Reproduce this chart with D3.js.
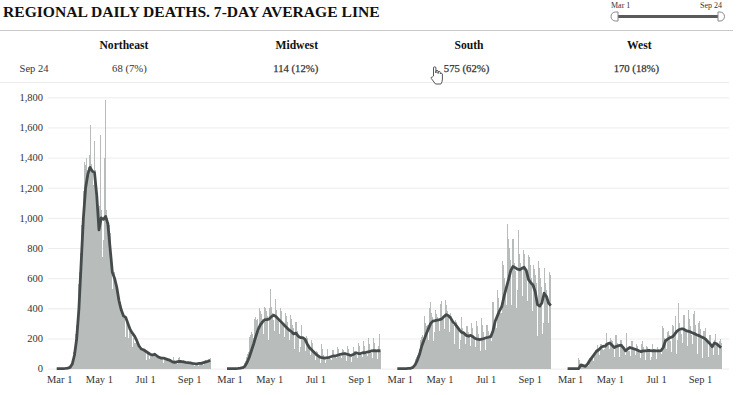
<!DOCTYPE html>
<html lang="en">
<head>
<meta charset="UTF-8">
<title>Regional Daily Deaths</title>
<script src="https://d3js.org/d3.v7.min.js"></script>
<style>
  body { margin: 0; background: #fff; }
  svg { display: block; font-family: "Liberation Serif", serif; }
  .grid line { stroke: #ececec; }
  .grid path { display: none; }
  .axis path, .axis line { display: none; }
  .axis text { font-family: "Liberation Serif", serif; font-size: 10.5px; fill: #333; }
</style>
</head>
<body>
<div id="chart"></div>
<script>
const regions = ["Northeast", "Midwest", "South", "West"];
const latest = ["68 (7%)", "114 (12%)", "575 (62%)", "170 (18%)"];
const yTicks = [0, 200, 400, 600, 800, 1000, 1200, 1400, 1600, 1800];
const xTickDays = [0, 61, 122, 184];
const xTickLabels = ["Mar 1", "May 1", "Jul 1", "Sep 1"];

// daily deaths, one row per week, first row starts Sun Mar 1
const northeast = [
  0, 0, 0, 0, 0, 0, 0,
  0, 0, 0, 0, 1, 1, 2,
  2, 4, 6, 8, 12, 20, 30,
  40, 60, 110, 135, 170, 230, 290,
  300, 420, 560, 640, 765, 830, 950,
  900, 1180, 1250, 1370, 1350, 1400, 1320,
  1250, 1340, 1420, 1615, 1400, 1360, 1310,
  1150, 1220, 1510, 1320, 1200, 1100, 1000,
  720, 950, 1080, 1550, 1050, 980, 740,
  850, 1000, 1400, 1780, 1050, 1000, 980,
  960, 950, 900, 730, 660, 530, 600,
  520, 640, 600, 560, 470, 500, 450,
  380, 420, 440, 400, 255, 380, 350,
  340, 320, 210, 330, 300, 280, 200,
  250, 240, 230, 220, 140, 200, 190,
  170, 170, 110, 180, 165, 150, 90,
  130, 130, 130, 125, 60, 120, 110,
  110, 105, 60, 110, 115, 100, 65,
  95, 90, 85, 100, 60, 95, 85,
  80, 80, 45, 75, 70, 70, 40,
  70, 70, 65, 65, 40, 65, 60,
  60, 55, 30, 60, 55, 50, 30,
  45, 40, 40, 75, 25, 60, 50,
  45, 40, 30, 70, 30, 75, 50,
  50, 45, 30, 55, 25, 45, 40,
  40, 35, 25, 45, 30, 40, 35,
  35, 30, 25, 35, 20, 35, 30,
  30, 30, 20, 40, 25, 35, 30,
  40, 35, 25, 50, 30, 55, 45,
  45, 40, 35, 60, 68
];
const midwest = [
  0, 0, 0, 0, 0, 0, 0,
  0, 0, 0, 0, 0, 0, 0,
  0, 1, 1, 2, 3, 4, 6,
  8, 12, 25, 35, 50, 60, 80,
  100, 110, 190, 210, 225, 240, 230,
  190, 200, 330, 340, 330, 320, 330,
  250, 280, 400, 380, 360, 340, 330,
  230, 270, 410, 400, 380, 350, 340,
  190, 260, 400, 525, 410, 370, 320,
  210, 250, 460, 430, 390, 340, 330,
  200, 230, 400, 380, 340, 310, 300,
  170, 210, 370, 350, 310, 280, 270,
  150, 190, 355, 330, 290, 270, 240,
  130, 170, 310, 290, 250, 220, 210,
  110, 140, 290, 260, 210, 190, 180,
  90, 120, 215, 200, 170, 150, 130,
  65, 90, 190, 170, 120, 100, 90,
  45, 60, 120, 110, 90, 80, 70,
  40, 60, 160, 130, 90, 80, 70,
  40, 55, 130, 120, 85, 75, 65,
  40, 60, 115, 125, 95, 85, 75,
  50, 70, 140, 130, 105, 90, 85,
  55, 70, 130, 125, 110, 95, 90,
  50, 70, 150, 130, 105, 90, 85,
  45, 75, 145, 135, 115, 100, 90,
  50, 70, 170, 150, 115, 100, 90,
  50, 75, 180, 150, 115, 110, 100,
  60, 85, 205, 160, 125, 110, 105,
  70, 85, 200, 170, 130, 115, 110,
  65, 90, 150, 232, 114
];
const south = [
  0, 0, 0, 0, 0, 0, 0,
  0, 0, 0, 0, 1, 1, 1,
  1, 2, 2, 3, 4, 6, 8,
  10, 18, 30, 50, 65, 80, 90,
  70, 90, 130, 160, 190, 210, 220,
  170, 200, 347, 300, 280, 270, 290,
  190, 240, 400, 440, 370, 340, 330,
  180, 240, 391, 380, 360, 340, 320,
  195, 250, 430, 446, 380, 340, 340,
  210, 260, 453, 420, 380, 350, 340,
  190, 240, 369, 350, 320, 300, 290,
  165, 210, 325, 310, 290, 270, 260,
  130, 190, 343, 300, 270, 250, 240,
  130, 160, 260, 280, 250, 240, 220,
  120, 150, 303, 270, 240, 220, 210,
  115, 140, 314, 280, 230, 210, 200,
  120, 140, 335, 290, 240, 210, 200,
  125, 130, 292, 280, 250, 220, 210,
  130, 180, 402, 440, 370, 320, 310,
  200, 270, 524, 470, 420, 390, 370,
  330, 369, 716, 690, 600, 520, 540,
  300, 420, 961, 860, 800, 720, 680,
  420, 560, 860, 790, 700, 650, 640,
  402, 520, 917, 800, 760, 700, 660,
  400, 480, 785, 760, 720, 660, 640,
  360, 450, 756, 740, 690, 630, 600,
  258, 380, 690, 660, 620, 570, 540,
  214, 340, 716, 670, 600, 540, 510,
  230, 300, 667, 640, 570, 520, 480,
  148, 300, 641, 620, 575
];
const west = [
  0, 0, 0, 0, 0, 0, 0,
  0, 0, 1, 1, 2, 3, 3,
  2, 70, 55, 30, 20, 15, 15,
  6, 10, 20, 20, 20, 25, 30,
  20, 35, 70, 65, 60, 65, 65,
  50, 70, 110, 125, 130, 159, 120,
  70, 90, 150, 165, 150, 130, 125,
  100, 130, 170, 180, 236, 170, 160,
  120, 130, 200, 190, 180, 160, 150,
  80, 100, 225, 220, 170, 140, 130,
  80, 100, 190, 180, 160, 130, 130,
  50, 90, 236, 170, 130, 120, 115,
  42, 85, 180, 185, 165, 140, 130,
  60, 90, 160, 150, 130, 110, 105,
  55, 70, 165, 181, 140, 120, 110,
  60, 80, 150, 140, 130, 115, 105,
  55, 75, 150, 165, 130, 110, 110,
  50, 65, 140, 130, 125, 115, 110,
  38, 100, 280, 270, 200, 170, 160,
  90, 130, 240, 250, 220, 190, 180,
  110, 292, 230, 280, 240, 220, 347,
  100, 190, 300, 435, 300, 250, 230,
  120, 170, 280, 358, 290, 260, 240,
  110, 150, 387, 330, 280, 240, 220,
  120, 160, 360, 380, 290, 240, 220,
  100, 130, 300, 314, 260, 210, 190,
  70, 120, 250, 240, 270, 200, 170,
  60, 80, 180, 225, 190, 160, 150,
  70, 90, 190, 200, 230, 170, 150,
  65, 90, 180, 197, 170
];
const dailySeries = [northeast, midwest, south, west];

// 7-day average read every third day, Mar 1 to Sep 24
const avgNortheast = [
  0, 0, 0, 0, 1, 3, 8, 30, 90, 200,
  400, 700, 1000, 1200, 1290, 1335, 1310, 1300, 1150, 920,
  1000, 990, 1010, 960, 800, 640, 600, 540, 450, 390,
  350, 340, 300, 260, 235, 215, 185, 150, 130, 125,
  115, 105, 95, 90, 95, 85, 75, 70, 70, 65,
  60, 55, 45, 42, 45, 48, 47, 45, 42, 40,
  38, 35, 33, 32, 34, 35, 40, 45, 48, 55
];
const avgMidwest = [
  0, 0, 0, 0, 0, 1, 3, 6, 15, 40,
  75, 120, 165, 215, 260, 290, 310, 325, 325, 330,
  345, 355, 345, 330, 315, 300, 285, 270, 255, 245,
  230, 235, 215, 205, 205, 195, 165, 140, 125, 110,
  95, 85, 75, 72, 70, 72, 75, 80, 85, 85,
  90, 95, 98, 100, 95, 90, 88, 95, 105, 100,
  100, 105, 105, 110, 112, 118, 120, 118, 120, 118
];
const avgSouth = [
  0, 0, 0, 0, 0, 1, 2, 8, 25, 55,
  95, 150, 190, 230, 265, 300, 315, 318, 322, 325,
  330, 345, 358, 350, 335, 310, 295, 275, 255, 240,
  235, 220, 215, 220, 210, 200, 195, 192, 195, 200,
  205, 208, 212, 250, 314, 350, 385, 413, 480, 535,
  590, 650, 678, 670, 660, 656, 665, 672, 650, 590,
  570, 555, 510, 425, 415, 435, 500, 480, 435, 418
];
const avgWest = [
  0, 0, 0, 0, 0, 0, 25, 20, 15, 30,
  55, 75, 95, 115, 125, 140, 148, 150, 165, 170,
  155, 140, 148, 152, 155, 140, 118, 130, 140, 135,
  130, 125, 118, 113, 118, 118, 120, 120, 118, 120,
  118, 118, 120, 140, 185, 195, 205, 210, 225, 245,
  258, 263, 263, 255, 248, 245, 238, 232, 225, 219,
  212, 205, 195, 180, 165, 145, 170, 165, 150, 139
];
const avgSeries = [avgNortheast, avgMidwest, avgSouth, avgWest];

const width = 739, height = 395;
const panelStart = 56.7, panelStep = 170.3, panelWidth = 153.5;
// small nudges so the header text sits where the original has it
const nameNudge = [-9.5, -7, -5, -5];
const valueNudge = [-4, -8, -7.5, -8];
const tickNudge = [2.5, -3, -2, -4];

const svg = d3.select("#chart").append("svg")
  .attr("width", width)
  .attr("height", height);

const y = d3.scaleLinear().domain([0, 1800]).range([368.6, 97.3]);
const x = d3.scaleLinear().domain([0, 207]).range([0, panelWidth]);

// Title
svg.append("text")
  .attr("x", 3).attr("y", 17)
  .attr("font-size", 15.6).attr("font-weight", "bold").attr("fill", "#111")
  .text("REGIONAL DAILY DEATHS. 7-DAY AVERAGE LINE");

// Date slider
const slider = svg.append("g");
slider.append("text").attr("x", 611).attr("y", 7.5).attr("font-size", 8).attr("fill", "#333").text("Mar 1");
slider.append("text").attr("x", 700).attr("y", 7.5).attr("font-size", 8).attr("fill", "#333").text("Sep 24");
slider.append("line").attr("x1", 618).attr("x2", 718).attr("y1", 16.5).attr("y2", 16.5)
  .attr("stroke", "#5a5a5a").attr("stroke-width", 3);
slider.append("path").attr("d", "M618,12 h-2.5 a4.5,4.5 0 0 0 0,9 h2.5 z")
  .attr("fill", "#fff").attr("stroke", "#888");
slider.append("path").attr("d", "M718,12 h2 a4.5,4.5 0 0 1 0,9 h-2 z")
  .attr("fill", "#fff").attr("stroke", "#888");

// Header rules
svg.append("line").attr("x1", 0).attr("x2", 733).attr("y1", 30.5).attr("y2", 30.5).attr("stroke", "#c8c8c8");
svg.append("line").attr("x1", 0).attr("x2", 729).attr("y1", 82.5).attr("y2", 82.5).attr("stroke", "#ececec");

svg.append("text")
  .attr("x", 34).attr("y", 71.5).attr("text-anchor", "middle")
  .attr("font-size", 10.5).attr("fill", "#333")
  .text("Sep 24");

// Grid and y axis
svg.append("g")
  .attr("class", "grid")
  .attr("transform", "translate(729,0)")
  .call(d3.axisLeft(y).tickValues(yTicks).tickSize(681).tickFormat(""));

svg.append("g")
  .attr("class", "axis")
  .attr("transform", "translate(48,0)")
  .call(d3.axisLeft(y).tickValues(yTicks).tickSize(0).tickPadding(5).tickFormat(d3.format(",")));

const avgLine = d3.line()
  .x((d, i) => x(i * 3))
  .y(d => y(d));

regions.forEach(function(region, r) {

  const left = panelStart + r * panelStep;
  const panel = svg.append("g").attr("transform", `translate(${left},0)`);

  panel.append("text")
    .attr("x", panelWidth / 2 + nameNudge[r]).attr("y", 48.5)
    .attr("text-anchor", "middle")
    .attr("font-size", 11.6).attr("font-weight", "bold").attr("fill", "#111")
    .text(region);

  panel.append("text")
    .attr("x", panelWidth / 2 + valueNudge[r]).attr("y", 71.5)
    .attr("text-anchor", "middle")
    .attr("font-size", 10.7).attr("fill", "#333")
    .attr("stroke", "#333").attr("stroke-width", r > 0 ? 0.25 : 0)
    .text(latest[r]);

  // Daily bars
  panel.append("g")
    .attr("shape-rendering", "crispEdges")
    .selectAll("rect")
    .data(dailySeries[r])
    .join("rect")
    .attr("x", (d, i) => x(i) - 0.55)
    .attr("width", 1.1)
    .attr("y", d => y(d))
    .attr("height", d => y(0) - y(d))
    .attr("fill", "#b8bdbc");

  // 7-day average
  panel.append("path")
    .datum(avgSeries[r])
    .attr("d", avgLine)
    .attr("fill", "none")
    .attr("stroke", "#454b4b")
    .attr("stroke-width", 2.8)
    .attr("stroke-linejoin", "round");

  // Month labels
  const axis = panel.append("g")
    .attr("class", "axis")
    .attr("transform", `translate(0,${y(0) + 2})`)
    .call(d3.axisBottom(x).tickValues(xTickDays).tickSize(0).tickPadding(5)
      .tickFormat((d, i) => xTickLabels[i]));
  axis.selectAll("text").attr("dx", (d, i) => tickNudge[i]);
});

// Mouse pointer caught in the screenshot
svg.append("path")
  .attr("transform", "translate(431,66)")
  .attr("d", "M2.5,10 V2 a1.2,1.2 0 0 1 2.4,0 V7 V5.5 a1.1,1.1 0 0 1 2.2,0 V7.5 V6.5 a1.1,1.1 0 0 1 2.2,0 V8 a1.1,1.1 0 0 1 2.1,0 V13 q0,3 -1.5,5 H4.5 L0.3,12.5 q-0.6,-1.6 1,-1.5 z")
  .attr("fill", "#fff")
  .attr("stroke", "#444")
  .attr("stroke-width", 0.9);
</script>
</body>
</html>
